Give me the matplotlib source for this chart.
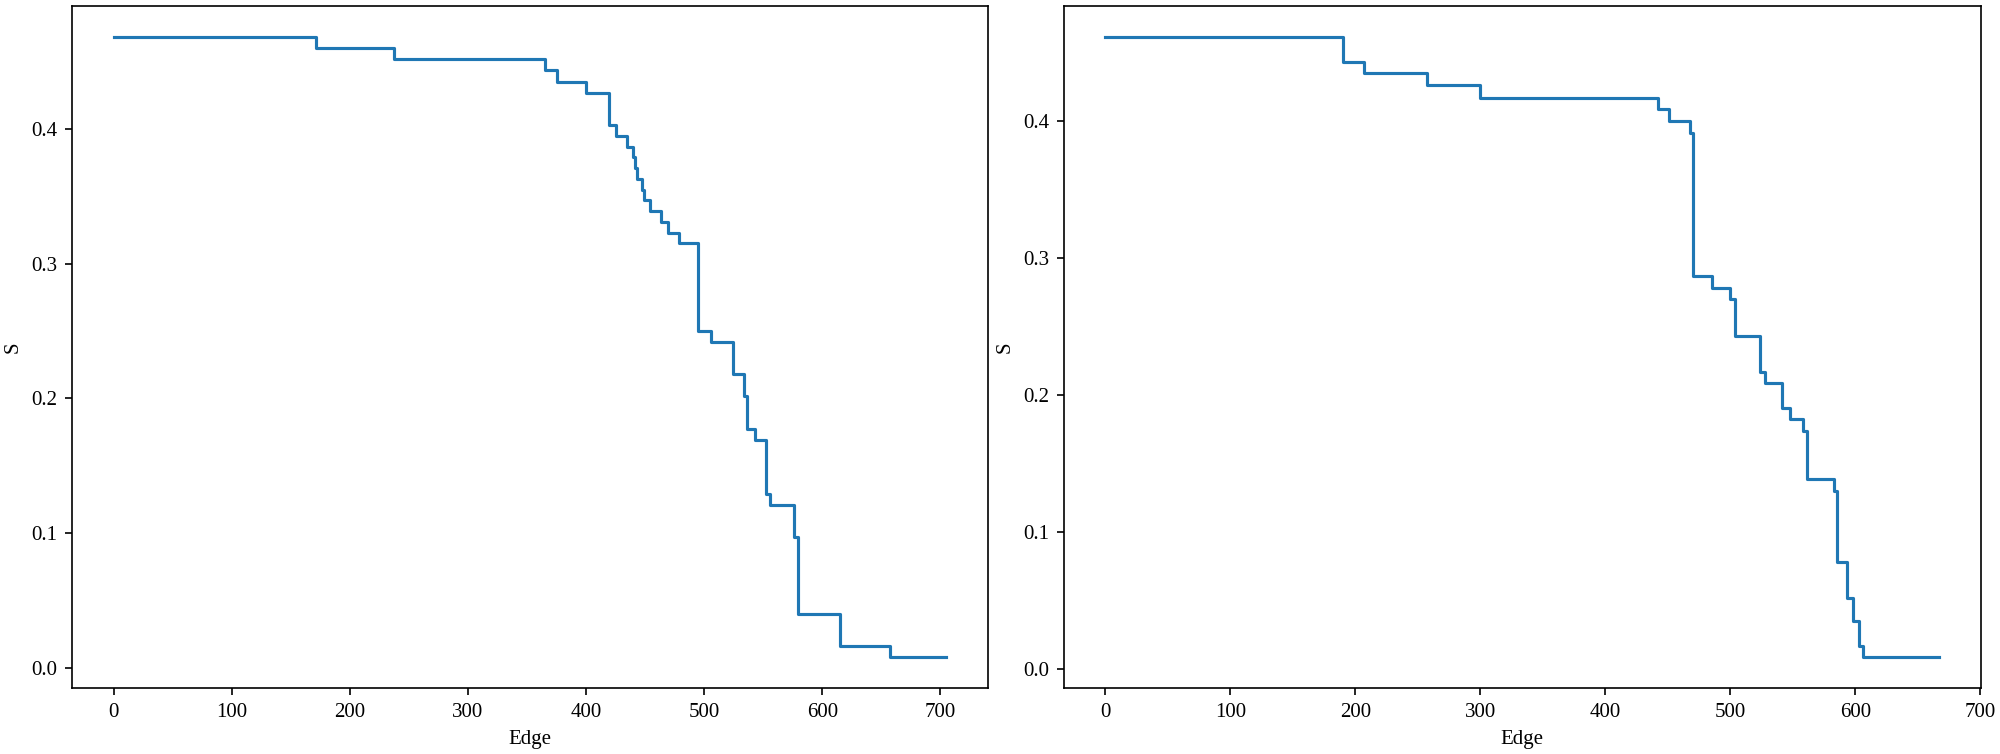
import matplotlib
matplotlib.use("Agg")
import matplotlib.pyplot as plt

plt.rcParams['font.family'] = ['Liberation Serif', 'DejaVu Serif']
plt.rcParams['font.size'] = 10

# left panel: edge index where each step starts, and the S value it holds
left_edge = [0, 171, 237, 365, 375, 400, 419, 425, 435, 440, 441, 443, 447, 449,
             454, 463, 469, 479, 495, 506, 524, 534, 536, 543, 552, 556, 576,
             579, 615, 657, 705]
left_s = [0.468, 0.460, 0.452, 0.444, 0.435, 0.427, 0.403, 0.395, 0.387, 0.379,
          0.371, 0.363, 0.355, 0.347, 0.339, 0.331, 0.323, 0.315, 0.250, 0.242,
          0.218, 0.202, 0.177, 0.169, 0.129, 0.121, 0.097, 0.040, 0.016, 0.008,
          0.008]

# right panel
right_edge = [0, 190, 207, 257, 300, 442, 451, 468, 470, 485, 500, 504, 524,
              528, 541, 548, 558, 561, 583, 585, 593, 598, 603, 606, 667]
right_s = [0.461, 0.443, 0.435, 0.426, 0.417, 0.409, 0.400, 0.391, 0.287, 0.278,
           0.270, 0.243, 0.217, 0.209, 0.191, 0.183, 0.174, 0.139, 0.130, 0.078,
           0.052, 0.035, 0.017, 0.009, 0.009]


def draw_panel(ax, edges, values):
    ax.step(edges, values, where='post', color='#1f77b4', linewidth=1.5)
    ax.set_xlabel('Edge')
    ax.set_ylabel('S')
    ax.set_xticks([0, 100, 200, 300, 400, 500, 600, 700])
    ax.set_yticks([0.0, 0.1, 0.2, 0.3, 0.4])


fig = plt.figure(figsize=(2000 / 150, 754 / 150), dpi=150)
ax1 = fig.add_axes([0.036, 0.0875, 0.458, 0.904])
ax2 = fig.add_axes([0.5318, 0.0875, 0.4586, 0.904])

draw_panel(ax1, left_edge, left_s)
draw_panel(ax2, right_edge, right_s)

fig.savefig('out.png', dpi=150)
